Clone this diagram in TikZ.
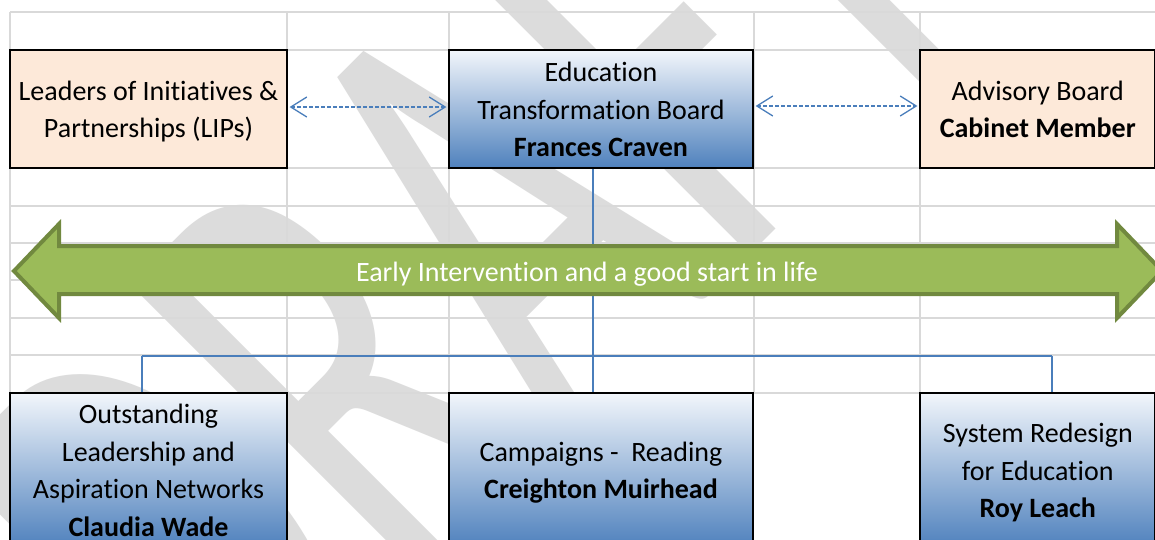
\documentclass[tikz,border=0pt]{standalone}
\usepackage{fontspec}
\setmainfont{Carlito}[Ligatures=NoCommon]
\newfontfamily\wmfont[FakeStretch=0.632]{Carlito}
\usetikzlibrary{arrows.meta}
\definecolor{peach}{HTML}{FDE9D9}
\definecolor{bltop}{HTML}{F2F6FB}
\definecolor{blbot}{HTML}{4F81BD}
\definecolor{connc}{HTML}{4A7EBB}
\definecolor{gridc}{HTML}{D9D9D9}
\definecolor{wmc}{HTML}{DCDCDC}
\definecolor{arrfill}{HTML}{9BBB59}
\definecolor{arrline}{HTML}{71893F}
\newcommand\lnstrut{\rule[-8.8pt]{0pt}{37.7pt}}
\begin{document}
\begin{tikzpicture}[x=1pt,y=-1pt,
  box/.style={draw=black, line width=2.2pt, inner sep=0pt, align=center,
    font=\fontsize{28}{37.7}\selectfont},
  peachbox/.style={box, fill=peach},
  bluebox/.style={box, top color=bltop, bottom color=blbot},
  gridline/.style={draw=gridc, line width=1.8pt},
  connline/.style={draw=connc, line width=1.5pt},
  dasharrow/.style={draw=connc, line width=1.3pt, dash pattern=on 4pt off 2pt,
    shorten <=1.5pt, shorten >=1.5pt,
    {Straight Barb[length=16pt,width=20pt]}-{Straight Barb[length=16pt,width=20pt]}},
  bigarrow/.style={fill=arrfill, draw=arrline, line width=4pt, line join=miter},
  arrowtext/.style={text=white, inner sep=0pt, font=\fontsize{28}{34}\selectfont},
  watermark/.style={rotate=45, anchor=base, inner sep=0pt, text=wmc,
    font=\wmfont\fontsize{650}{650}\selectfont}]
\useasboundingbox (0,0) rectangle (1155,539);
\fill[white] (0,0) rectangle (1155,539);
\clip (0,0) rectangle (1155,539);
% watermark
\node[watermark] (wmk) at (615.3,389.7) {DRAFT};
% spreadsheet grid
\foreach \yy in {12,50,168,206,243,280,318,355,393}
  \draw[gridline] (10,\yy) -- (1155,\yy);
\foreach \xx in {10,287,449,754,920}
  \draw[gridline] (\xx,12) -- (\xx,393);
% boxes
\node[peachbox, minimum width=277pt, minimum height=118pt] (lip) at (148.5,109)
  {\lnstrut Leaders of Initiatives \&\\\lnstrut Partnerships (LIPs)};
\node[bluebox, minimum width=304pt, minimum height=118pt] (etb) at (601,109)
  {\lnstrut Education\\\lnstrut Transformation Board\\\lnstrut\textbf{Frances Craven}};
\node[peachbox, minimum width=235.5pt, minimum height=118pt] (adv) at (1037.75,109)
  {\lnstrut Advisory Board\\\lnstrut\textbf{Cabinet Member}};
\node[bluebox, minimum width=277pt, minimum height=154pt] (olan) at (148.5,470)
  {\lnstrut Outstanding\\\lnstrut Leadership and\\\lnstrut Aspiration Networks\\\lnstrut\textbf{Claudia Wade}};
\node[bluebox, minimum width=304pt, minimum height=154pt] (cam) at (601,470)
  {\lnstrut Campaigns -\ \ Reading\\\lnstrut\textbf{Creighton Muirhead}};
\node[bluebox, minimum width=235.5pt, minimum height=154pt] (srd) at (1037.75,470)
  {\lnstrut System Redesign\\\lnstrut for Education\\\lnstrut\textbf{Roy Leach}};
% connectors
\coordinate (jc) at (593,356);
\coordinate (jl) at (142,356);
\coordinate (jr) at (1052,356);
\draw[connline] (etb.south -| jc) -- (cam.north -| jc);
\draw[connline] (jl) -- (jr);
\draw[connline] (jl) -- (olan.north -| jl);
\draw[connline] (jr) -- (srd.north -| jr);
% big double arrow
\draw[bigarrow] (14,271) -- (59,224) -- (59,246) -- (1117,246) -- (1117,224)
  -- (1162,271) -- (1117,318) -- (1117,294) -- (59,294) -- (59,318) -- cycle;
\node[arrowtext] (eil) at (587,274) {Early Intervention and a good start in life};
% dashed links
\draw[dasharrow] ([yshift=2pt]lip.east) -- ([yshift=2pt]etb.west);
\draw[dasharrow] ([yshift=3pt]etb.east) -- ([yshift=3pt]adv.west);
\end{tikzpicture}
\end{document}
